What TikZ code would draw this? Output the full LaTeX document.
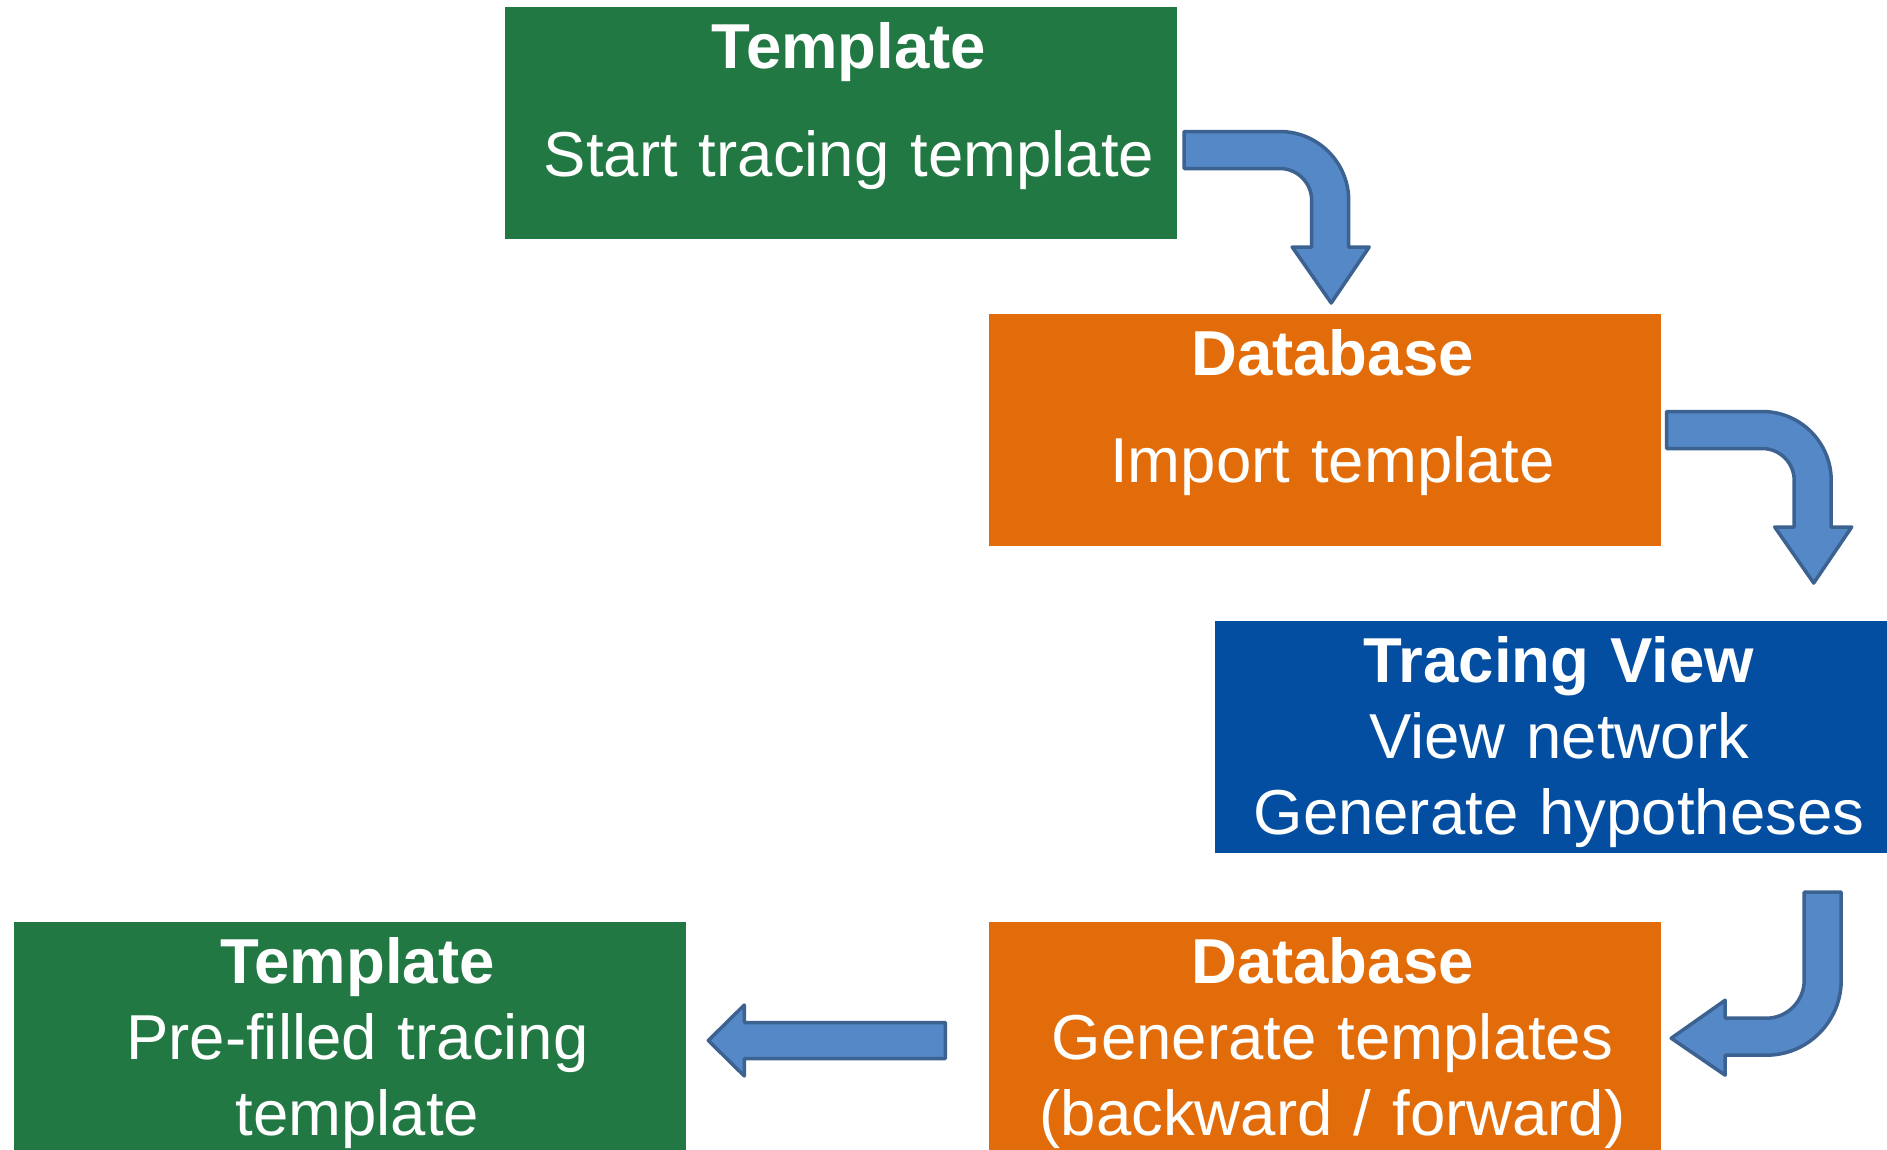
\documentclass[tikz,border=0pt]{standalone}
\usepackage{fontspec}
\setmainfont{Liberation Sans}
\usepackage{tikz}
\usetikzlibrary{positioning}
\definecolor{tgreen}{RGB}{33,120,67}
\definecolor{dborange}{RGB}{227,108,10}
\definecolor{tvblue}{RGB}{4,78,162}
\definecolor{arrowfill}{RGB}{84,136,198}
\definecolor{arrowdraw}{RGB}{60,98,145}
\tikzstyle{block} = [rectangle, text=white, text width=672pt, align=center, inner sep=0pt,
text height=61.5pt, text depth=170.5pt, font=\fontsize{63.5}{76}\selectfont,
execute at begin node={\advance\leftskip by 16pt}]
\tikzstyle{barrow} = [fill=arrowfill, draw=arrowdraw, line width=3.5pt, line join=round]

\begin{document}
\begin{tikzpicture}[x=1pt, y=1pt, node distance=307pt]
\useasboundingbox (0,0) rectangle (1887,-1149);
% Place nodes
	\node [block, fill=tgreen] at (841,-123) (tmpl1) {\textbf{Template}\\[32pt]Start tracing template};
	\node [block, fill=dborange, below of=tmpl1, xshift=483.5pt] (db1) {\textbf{Database}\\[31pt]Import template};
	\node [block, fill=tvblue, below of=db1, xshift=226.5pt] (view) {\textbf{Tracing View}\\View network\\Generate hypotheses};
	\node [block, fill=dborange, below of=view, xshift=-226.5pt, yshift=6pt] (db2) {\textbf{Database}\\Generate templates\\(backward / forward)};
	\node [block, fill=tgreen, left of=db2, xshift=-668pt] (tmpl2) {\textbf{Template}\\Pre-filled tracing\\template};

% Draw arrows
	\coordinate (a1) at ([xshift=7pt,yshift=-27pt]tmpl1.east);
	\coordinate (a2) at ([xshift=6pt]db1.east);
	\coordinate (a3) at ([xshift=-64.5pt,yshift=-39pt]view.south east);
	\coordinate (a4) at ([xshift=-43pt,yshift=-2.5pt]db2.west);
	\path [barrow] ([yshift=18.5pt]a1) -- ++(95.5,0) arc (90:0:69pt) -- ++(0,-46.5) -- ++(20.5,0) -- ++(-38,-56) -- ++(-39,56) -- ++(19.5,0) -- ++(0,46.5) arc (0:90:32pt) -- ([yshift=-18.5pt]a1) -- cycle;
	\path [barrow] ([yshift=18.5pt]a2) -- ++(95.5,0) arc (90:0:69pt) -- ++(0,-46.5) -- ++(20.5,0) -- ++(-38,-56) -- ++(-39,56) -- ++(19.5,0) -- ++(0,46.5) arc (0:90:32pt) -- ([yshift=-18.5pt]a2) -- cycle;
	\path [barrow] ([xshift=-18.5pt]a3) -- ++(37,0) -- ++(0,-88) arc (0:-90:75pt) -- ++(-41,0) -- ++(0,-20) -- ++(-54,37) -- ++(54,38) -- ++(0,-18) -- ++(41,0) arc (-90:0:38pt) -- cycle;
	\path [barrow] ([yshift=18pt]a4) -- ++(-201,0) -- ++(0,17.5) -- ++(-36,-35.5) -- ++(36,-35.5) -- ++(0,17.5) -- ++(201,0) -- cycle;

\end{tikzpicture}
\end{document}
